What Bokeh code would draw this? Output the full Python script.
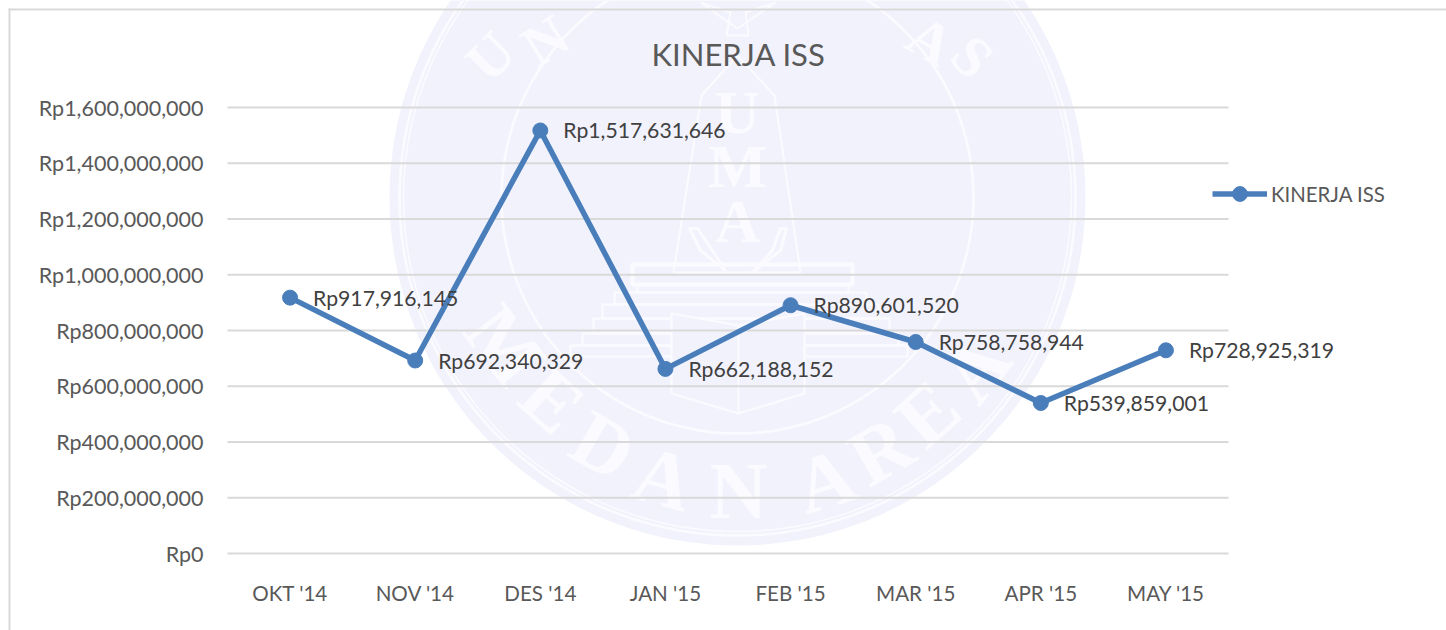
import math
from bokeh.core.properties import value
from bokeh.embed import file_html
from bokeh.models import (BoxAnnotation, ColumnDataSource, FixedTicker, Label, Legend, LegendItem,
                          PolyAnnotation, Range1d)
from bokeh.plotting import figure
from bokeh.resources import INLINE

chart_title = "KINERJA ISS"
months = ["OKT '14", "NOV '14", "DES '14", "JAN '15", "FEB '15", "MAR '15", "APR '15", "MAY '15"]
kinerja = [917916145, 692340329, 1517631646, 662188152, 890601520, 758758944, 539859001, 728925319]
y_ticks = [0, 200000000, 400000000, 600000000, 800000000, 1000000000, 1200000000, 1400000000, 1600000000]

FONT = "Lato"
W, H = 1446, 630
FL, FR, FT, FB = 227, 1228, 107, 553  # plot-area edges in picture pixels


def dx(px):
    return -0.5 + (px - FL) / (FR - FL) * len(months)


def dy(py):
    return (FB - py) / (FB - FT) * y_ticks[-1]


xs = list(range(len(months)))
src = ColumnDataSource(dict(x=xs, y=kinerja, lab=[f"Rp{v:,}" for v in kinerja]))

p = figure(width=W, height=H, output_backend="svg", toolbar_location=None,
           x_range=Range1d(dx(0), dx(W)), y_range=Range1d(dy(H), dy(0)),
           min_border_left=0, min_border_right=0, min_border_top=0, min_border_bottom=0)
p.outline_line_color = None
p.background_fill_color = "#ffffff"
p.border_fill_color = "#ffffff"


def poly(points, fill=None, line="#fbfbff", lw=2):
    pa = PolyAnnotation(xs=[dx(a) for a, _ in points], ys=[dy(b) for _, b in points], level="image",
                        fill_color=fill, fill_alpha=1 if fill else 0,
                        line_color=line, line_width=lw, line_alpha=1 if line else 0)
    p.add_layout(pa)


def ring(r):
    return [(737 + r * math.cos(i * math.pi / 90), 197 + r * math.sin(i * math.pi / 90)) for i in range(180)]


def letter(t, px, py, deg, size=80):
    p.add_layout(Label(x=dx(px), y=dy(py), text=t, angle=math.radians(deg), level="image",
                       text_align="center", text_baseline="middle", text_color="#fbfbff",
                       text_font="Liberation Serif", text_font_style="bold", text_font_size=f"{size}px"))


# faint seal behind the chart
poly(ring(348), fill="#f2f2fc", line=None)
poly(ring(338), lw=2.5)
poly(ring(334), lw=1.5)
poly(ring(236), lw=2.5)
for t, a, b, d in [("U", 490, 56, 45), ("N", 545, 40, 32), ("A", 930, 40, -30), ("S", 972, 56, -45)]:
    letter(t, a, b, d, size=58)
for t, a, b, d in [("M", 505, 345, -52), ("E", 552, 400, -42), ("D", 603, 445, -30), ("A", 663, 478, -15),
                   ("N", 738, 490, 0), ("A", 825, 480, 17), ("R", 880, 450, 30), ("E", 927, 413, 42),
                   ("A", 975, 368, 52)]:
    letter(t, a, b, d)
for t, b in [("U", 111), ("M", 165), ("A", 220)]:
    letter(t, 737, b, 0, size=62)
poly([(737, 55), (774, 95), (800, 272), (673, 272), (701, 95)])
for a, b, c, d in [(637, 284, 848, 292), (614, 292, 866, 304), (602, 304, 878, 318), (593, 318, 889, 333),
                   (582, 333, 898, 345), (570, 345, 907, 356)]:
    poly([(a, b), (c, b), (c, d), (a, d)])
poly([(632, 264), (852, 264), (852, 284), (632, 284)], lw=4)
poly([(689, 228), (700, 250), (725, 270), (712, 250), (697, 228)], lw=3)
poly([(786, 228), (780, 250), (752, 272), (772, 250), (780, 228)], lw=3)
poly([(671, 313), (738, 325), (804, 313), (804, 393), (738, 413), (671, 393)], fill="#f2f2fc")
poly([(738, 325), (738, 413)])
poly([(700, 2), (737, 28), (775, 2), (745, 12), (748, 35), (726, 35), (730, 12)])

# chart frame
for a, b, c, d in [(8, 8, W, 10), (8, 8, 10, H)]:
    p.add_layout(BoxAnnotation(left=dx(a), right=dx(c), top=dy(b), bottom=dy(d), level="image",
                               fill_color="#d9d9d9", fill_alpha=1, line_color=None))

p.xgrid.grid_line_color = None
p.ygrid.grid_line_color = None
p.segment(x0=-0.5, x1=len(months) - 0.5, y0=y_ticks, y1=y_ticks, line_color="#d9d9d9", line_width=2)

line = p.line("x", "y", source=src, line_color="#4a7ebb", line_width=5.5, line_join="round")
dots = p.scatter("x", "y", source=src, size=15, marker="circle", fill_color="#4a7ebb", line_color="#4a7ebb")
p.text("x", "y", text="lab", source=src, x_offset=23, y_offset=0, text_align="left", text_baseline="middle",
       text_color="#404040", text_font=value(FONT), text_font_size="21.2px")

p.add_layout(Label(x=dx(651), y=dy(53), text=chart_title, text_align="left", text_baseline="middle",
                   text_color="#595959", text_font=FONT, text_font_size="31px"))

p.xaxis.ticker = FixedTicker(ticks=xs)
p.xaxis.major_label_overrides = dict(zip(xs, months))
p.xaxis.fixed_location = 0
p.yaxis.ticker = FixedTicker(ticks=y_ticks)
p.yaxis.major_label_overrides = {v: f"Rp{v:,}" for v in y_ticks}
p.yaxis.fixed_location = -0.5
for ax in (p.xaxis[0], p.yaxis[0]):
    ax.axis_line_color = None
    ax.major_tick_line_color = None
    ax.minor_tick_line_color = None
    ax.major_label_text_color = "#595959"
    ax.major_label_text_font = FONT
p.xaxis.major_label_text_font_size = "20.6px"
p.yaxis.major_label_text_font_size = "21.5px"
p.xaxis.major_label_standoff = 21
p.yaxis.major_label_standoff = 18

legend = Legend(items=[LegendItem(label=chart_title, renderers=[line, dots])],
                location=(1212, H - 194 - 18), orientation="vertical",
                glyph_width=55, glyph_height=37, label_standoff=4, padding=0, margin=0, spacing=0,
                border_line_color=None, background_fill_alpha=0,
                label_text_color="#595959", label_text_font=FONT, label_text_font_size="20.4px")
p.add_layout(legend, "center")

open("out.html", "w").write(file_html(p, INLINE))
